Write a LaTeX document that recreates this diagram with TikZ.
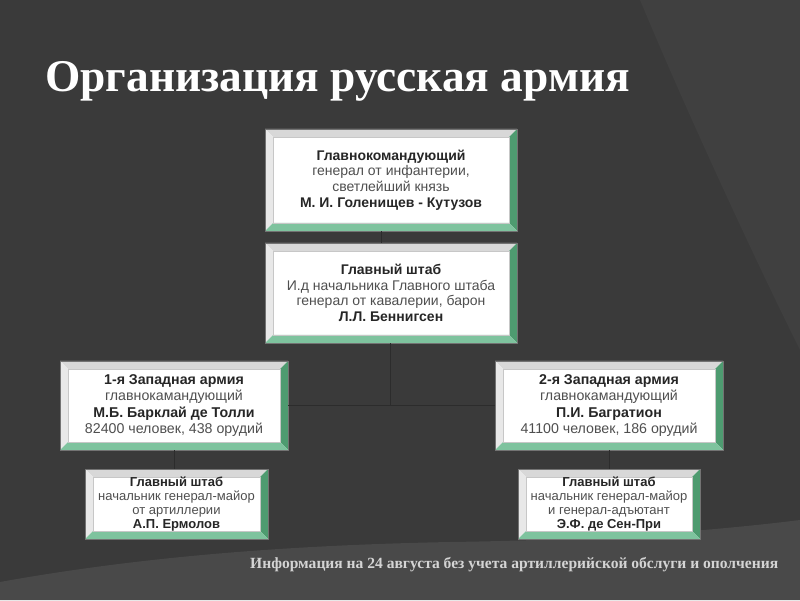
\documentclass[tikz,border=0pt]{standalone}
\usepackage{fontspec}
\setmainfont{Liberation Serif}
\newfontfamily\boxfont{Liberation Sans}
\definecolor{bgbase}{HTML}{3A3A3A}
\definecolor{bgright}{HTML}{404040}
\definecolor{bgbottom}{HTML}{494949}
\definecolor{bevtopc}{HTML}{D8D8D8}
\definecolor{bevleftc}{HTML}{E8E8E8}
\definecolor{bevrightc}{HTML}{4E9B70}
\definecolor{bevbotc}{HTML}{7EC39E}
\definecolor{boldtxt}{HTML}{262626}
\definecolor{regtxt}{HTML}{4F4F4F}
\definecolor{linkc}{HTML}{2C2C2C}
\definecolor{notec}{HTML}{D4D4D4}
\def\bw{8pt}
\newcommand\bl[1]{{\color{boldtxt}\bfseries #1}}
\tikzset{
  bevbox/.style={rectangle, draw=black!55, line width=0.5pt, fill=white,
    inner sep=0pt, align=center, text=regtxt,
    path picture={
      \path (path picture bounding box.south west) coordinate (bbsw)
            (path picture bounding box.north east) coordinate (bbne);
      \coordinate (bbnw) at (bbsw|-bbne);
      \coordinate (bbse) at (bbne|-bbsw);
      \fill[bevtopc] (bbnw) -- (bbne) -- ([shift={(-\bw,-\bw)}]bbne) -- ([shift={(\bw,-\bw)}]bbnw) -- cycle;
      \fill[bevleftc] (bbsw) -- (bbnw) -- ([shift={(\bw,-\bw)}]bbnw) -- ([shift={(\bw,\bw)}]bbsw) -- cycle;
      \fill[bevrightc] (bbne) -- (bbse) -- ([shift={(-\bw,\bw)}]bbse) -- ([shift={(-\bw,-\bw)}]bbne) -- cycle;
      \fill[bevbotc] (bbsw) -- (bbse) -- ([shift={(-\bw,\bw)}]bbse) -- ([shift={(\bw,\bw)}]bbsw) -- cycle;
      \draw[black!22, line width=0.4pt] ([shift={(\bw,\bw)}]bbsw) rectangle ([shift={(-\bw,-\bw)}]bbne);
    }},
  bigtext/.style={font=\boxfont\fontsize{14}{15.7}\selectfont},
  midtext/.style={font=\boxfont\fontsize{14.2}{16.2}\selectfont},
  smalltext/.style={font=\boxfont\fontsize{13}{13.8}\selectfont},
  link/.style={draw=linkc, line width=0.8pt}
}
\begin{document}
\begin{tikzpicture}[x=1pt,y=1pt]
% background
\fill[bgbase] (0,0) rectangle (800,600);
\fill[bgright] (640,600) .. controls (690,480) and (760,330) .. (800,250) -- (800,600) -- cycle;
\fill[bgbottom] (0,0) -- (0,18) .. controls (150,45) and (300,55) .. (450,58) .. controls (600,60) and (720,70) .. (800,80) -- (800,0) -- cycle;
\useasboundingbox (0,0) rectangle (800,600);

% title
\node[anchor=base west, inner sep=0pt, text=white, font=\bfseries\fontsize{45.4}{50}\selectfont] (title) at (45,508) {Организация русская армия};

% boxes
\node[bevbox, bigtext, minimum width=252pt, minimum height=102pt] (b1) at (391,420)
  {\bl{Главнокомандующий}\\генерал от инфантерии,\\светлейший князь\\\bl{М. И. Голенищев - Кутузов}};
\node[bevbox, bigtext, minimum width=252pt, minimum height=100pt] (b2) at (391,307)
  {\bl{Главный штаб}\\И.д начальника Главного штаба\\генерал от кавалерии, барон\\\bl{Л.Л. Беннигсен}};
\node[bevbox, midtext, minimum width=228pt, minimum height=89pt] (b3) at (174,194.5)
  {\bl{1-я Западная армия}\\главнокамандующий\\\bl{М.Б. Барклай де Толли}\\82400 человек, 438 орудий};
\node[bevbox, midtext, minimum width=228pt, minimum height=89pt] (b4) at (609,194.5)
  {\bl{2-я Западная армия}\\главнокамандующий\\\bl{П.И. Багратион}\\41100 человек, 186 орудий};
\node[bevbox, smalltext, minimum width=183pt, minimum height=70pt] (b5) at (176.5,96)
  {\bl{Главный штаб}\\начальник генерал-майор\\от артиллерии\\\bl{А.П. Ермолов}};
\node[bevbox, smalltext, minimum width=182pt, minimum height=70pt] (b6) at (609,96)
  {\bl{Главный штаб}\\начальник генерал-майор\\и генерал-адъютант\\\bl{Э.Ф. де Сен-При}};

% connectors
\draw[link] ([xshift=-10pt]b1.south) -- ([xshift=-10pt]b2.north);
\draw[link] ([xshift=-1pt]b2.south) -- ([xshift=-1pt]b2.south |- b3.east);
\draw[link] (b3.east) -- (b4.west);
\draw[link] (b3.south) -- (b3.south |- b5.north);
\draw[link] (b4.south) -- (b6.north);

% note
\node[anchor=base west, inner sep=0pt, text=notec] (note) at (250,32)
  {\resizebox{528pt}{!}{\bfseries\fontsize{12}{14}\selectfont Информация на 24 августа без учета артиллерийской обслуги и ополчения}};
\end{tikzpicture}
\end{document}
